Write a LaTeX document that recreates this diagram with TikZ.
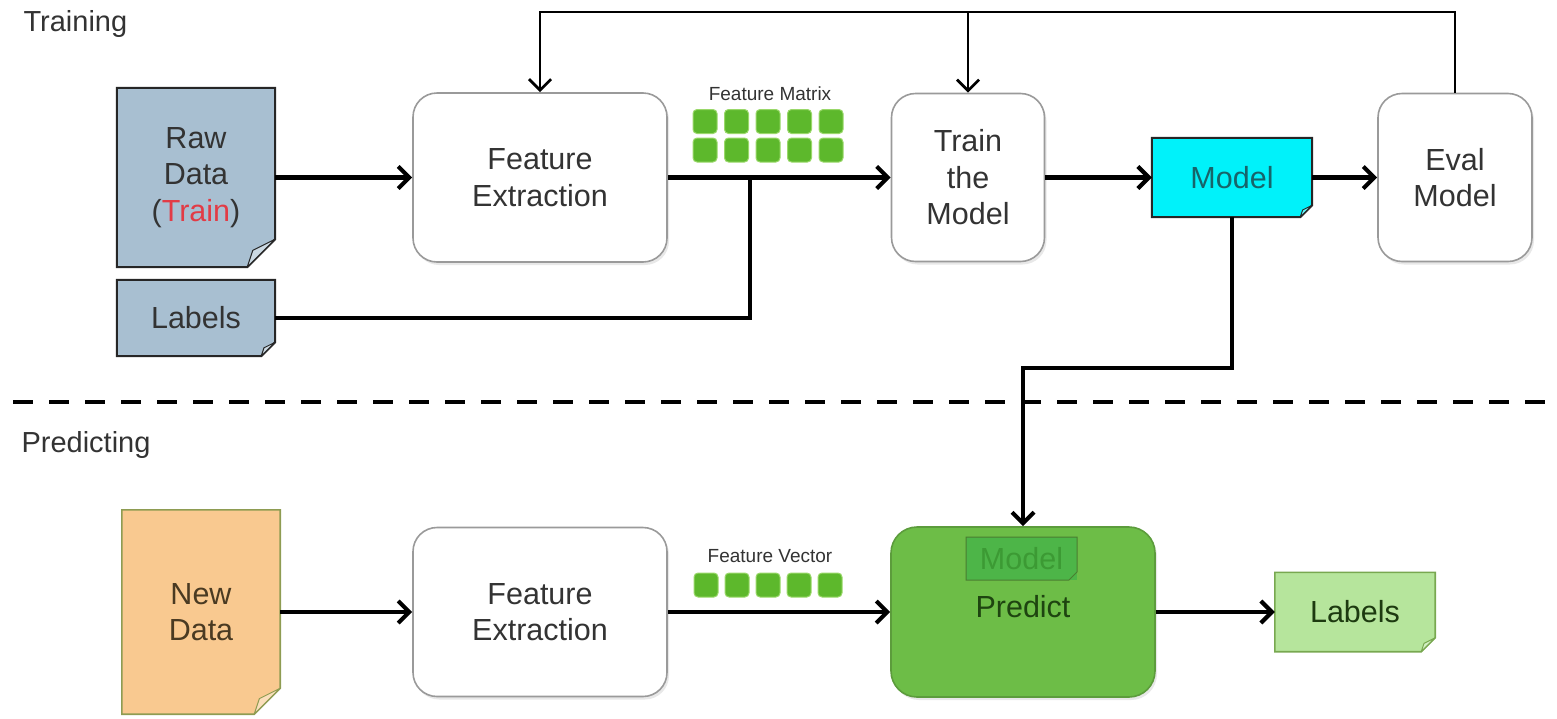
\documentclass[tikz,border=0pt]{standalone}
\usepackage{fontspec}
\setmainfont{Liberation Sans}
\usetikzlibrary{arrows.meta,backgrounds,shadows}

\definecolor{rawfill}{HTML}{A8BFD1}
\definecolor{docline}{HTML}{262626}
\definecolor{boxgray}{HTML}{9A9A9A}
\definecolor{txt}{HTML}{333333}
\definecolor{trainred}{HTML}{E23B45}
\definecolor{modelcyan}{HTML}{00F2FA}
\definecolor{modeltxt}{HTML}{17646A}
\definecolor{newfill}{HTML}{F9C990}
\definecolor{newline}{HTML}{8E9C52}
\definecolor{newtxt}{HTML}{4A3A22}
\definecolor{predfill}{HTML}{6DBD47}
\definecolor{predline}{HTML}{5C9C3C}
\definecolor{predtxt}{HTML}{1E4410}
\definecolor{innerfill}{HTML}{4DB548}
\definecolor{innertxt}{HTML}{3C9A34}
\definecolor{labfill}{HTML}{B6E59C}
\definecolor{labline}{HTML}{78A850}
\definecolor{labtxt}{HTML}{1D3A10}
\definecolor{sqgreen}{HTML}{5DB82C}
\definecolor{sqedge}{HTML}{9AD86A}

\newcommand\docoutline[5]{% node, fold, fill, line colour, line width
  \filldraw[fill=#3, draw=#4, line width=#5, line join=miter]
    (#1.north west) -- (#1.north east) -- ([yshift=#2pt]#1.south east)
    -- ([xshift=-#2pt]#1.south east) -- (#1.south west) -- cycle;
  \filldraw[fill=#3!60!white, draw=#4, line width=1pt, line join=round]
    ([yshift=#2pt]#1.south east) -- ([xshift=-#2pt]#1.south east)
    -- ([xshift={-0.8*#2pt}, yshift={0.6*#2pt}]#1.south east) -- cycle;
}

\tikzset{
  mainfont/.style={font=\fontsize{30.5}{36.5}\selectfont},
  doc/.style={rectangle, inner sep=0pt, align=center, mainfont},
  rbox/.style={rectangle, draw=boxgray, line width=1.6pt, rounded corners=24pt,
    fill=white, inner sep=0pt, align=center, mainfont, text=txt,
    drop shadow={opacity=0.18, shadow xshift=2pt, shadow yshift=-3pt}},
  arr/.style={draw=black, line width=4.2pt, -{Straight Barb[length=11pt,width=22pt]}},
  thin arr/.style={draw=black, line width=2.8pt, -{Straight Barb[length=11pt,width=22pt]}},
  plain/.style={draw=black, line width=4.2pt},
  sq/.style={rectangle, fill=sqgreen, draw=sqedge, line width=1pt,
    rounded corners=4pt, minimum size=24pt, inner sep=0pt},
  small/.style={font=\fontsize{19}{22}\selectfont, text=txt},
  section/.style={font=\fontsize{29}{34}\selectfont, text=txt, anchor=west},
}

\begin{document}
\begin{tikzpicture}[x=1pt, y=-1pt]
\useasboundingbox (0,0) rectangle (1557,718);

% section titles
\node[section] (ttrain) at (20,24) {Training};
\node[section] (tpred) at (18,445) {Predicting};

% dashed separator
\coordinate (dl) at (13,402);
\coordinate (dr) at (1557,402);
\draw[line width=4.5pt, dash pattern=on 20pt off 16pt] (dl) -- (dr);

% ---------- training row ----------
\node[doc, minimum width=158pt, minimum height=179pt, text=txt] (raw) at (196,177.5)
  {Raw\\Data\\(\textcolor{trainred}{Train})};
\node[doc, minimum width=158pt, minimum height=76pt, text=txt] (lab1) at (196,318) {Labels};
\node[rbox, minimum width=254pt, minimum height=169pt] (fe1) at (540,177.5) {Feature\\Extraction};
\node[rbox, minimum width=153pt, minimum height=168pt] (tr) at (968,177.5) {Train\\the\\Model};
\node[doc, minimum width=160pt, minimum height=79pt, text=modeltxt] (model) at (1232,177.5) {Model};
\node[rbox, minimum width=154pt, minimum height=168pt] (ev) at (1455,177.5) {Eval\\Model};

% feature matrix
\node[small] (fmlabel) at (770,94) {Feature Matrix};
\foreach \i in {0,...,4} {
  \node[sq] (ma\i) at (705+31.5*\i,121.5) {};
  \node[sq] (mb\i) at (705+31.5*\i,150) {};
}

% ---------- predicting row ----------
\node[doc, minimum width=158pt, minimum height=204pt, text=newtxt] (nd) at (201,612) {New\\Data};
\node[rbox, minimum width=254pt, minimum height=169pt] (fe2) at (540,612) {Feature\\Extraction};
\node[rectangle, draw=predline, line width=1.6pt, rounded corners=26pt, fill=predfill,
  minimum width=264pt, minimum height=170pt,
  drop shadow={opacity=0.18, shadow xshift=2pt, shadow yshift=-3pt}] (pr) at (1023,612) {};
\node[mainfont, text=predtxt] (prt) at (1023,607) {Predict};
\node[doc, minimum width=160pt, minimum height=79pt, text=labtxt] (lab2) at (1355,612) {Labels};

% feature vector
\node[small] (fvlabel) at (770,556) {Feature Vector};
\foreach \i in {0,...,4} {
  \node[sq] (va\i) at (706+31*\i,585) {};
}

% document outlines on the background layer
\begin{scope}[on background layer]
  \docoutline{raw}{28}{rawfill}{docline}{2pt}
  \docoutline{lab1}{14}{rawfill}{docline}{2pt}
  \docoutline{model}{12}{modelcyan}{docline}{2pt}
  \docoutline{nd}{26}{newfill}{newline}{1.6pt}
  \docoutline{lab2}{14}{labfill}{labline}{1.6pt}
\end{scope}

% inner model sheet inside predict
\coordinate (pmnw) at (966,537);
\coordinate (pmse) at (1077,580);
\fill[innerfill] (pmnw) rectangle (pmse);
\draw[predline!80!black, line width=1pt] (966,537) -- (1077,537) -- (1077,572) -- (1069,580) -- (966,580) -- cycle;
\node[doc, text=innertxt] (pm) at (1021.5,558.5) {Model};

% ---------- connectors ----------
\draw[arr] (raw.east |- fe1.west) -- (fe1.west);
\draw[arr] (fe1.east) -- (tr.west);
\coordinate (j) at (750,177.5);
\draw[plain] (lab1.east) -| (j);
\draw[arr] (tr.east) -- (model.west);
\draw[arr] (model.east) -- (ev.west);

% feedback loop
\coordinate (fbl) at (540,12);
\coordinate (fbm) at (968,12);
\draw[thin arr] (ev.north) |- (fbl) -- (fe1.north);
\draw[thin arr] (fbm) -- (tr.north);

% model to predict
\coordinate (mb) at (1232,368);
\draw[arr] (model.south) -- (mb) -| (pr.north);

\draw[arr] (nd.east |- fe2.west) -- (fe2.west);
\draw[arr] (fe2.east) -- (pr.west);
\draw[arr] (pr.east) -- (lab2.west);
\end{tikzpicture}
\end{document}
